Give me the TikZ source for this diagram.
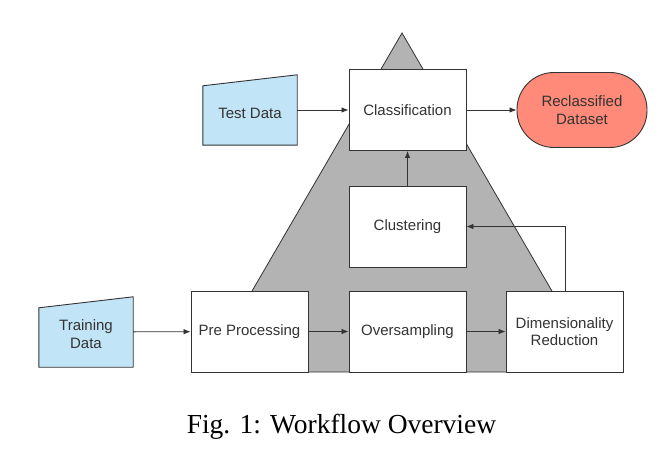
\documentclass[tikz,border=0pt]{standalone}
\usepackage{xcolor}
\usepackage{fontspec}
\setmainfont{Liberation Serif}
\setsansfont{Liberation Sans}
\usepackage{tikz}
\usetikzlibrary{arrows.meta,positioning,calc,backgrounds}

\definecolor{lineGray}{HTML}{333333}
\definecolor{triGray}{HTML}{B3B3B3}
\definecolor{dataBlue}{HTML}{C2E4F7}
\definecolor{outSalmon}{HTML}{FF8A7A}

\begin{document}
\begin{tikzpicture}[x=1pt, y=-1pt,
    every node/.style={font=\sffamily\fontsize{15}{17.5}\selectfont, text=lineGray},
    proc/.style={draw=lineGray, line width=0.9pt, fill=white, minimum width=117pt, minimum height=81pt, align=center, inner sep=0pt},
    datanode/.style={minimum width=94pt, minimum height=70pt, align=center, inner sep=0pt},
    datashape/.style={draw=lineGray, line width=0.9pt, fill=dataBlue},
    result/.style={draw=lineGray, line width=0.9pt, fill=outSalmon, rounded corners=37pt, minimum width=130pt, minimum height=75pt, align=center, inner sep=0pt},
    flow/.style={draw=lineGray, line width=0.8pt, -{Latex[length=7pt,width=5.5pt]}}]
    \useasboundingbox (0,0) rectangle (658,454);

    % background triangle
    \draw[draw=lineGray, line width=0.8pt, fill=triGray] (402,33) -- (599,372) -- (205,372) -- cycle;

    % process boxes
    \node[proc] (classif) at (407.5,110) {Classification};
    \node[proc] (clust) at (407.5,226.5) {Clustering};
    \node[proc] (prep) at (249.5,331.5) {Pre Processing};
    \node[proc] (overs) at (407.5,331.5) {Oversampling};
    \node[proc] (dimred) at (564.5,331.5) {Dimensionality\\Reduction};
    \node[result] (reclass) at (582,110) {Reclassified\\Dataset};

    % input data
    \node[datanode] (test) at (250,110) {\raisebox{-8.9pt}[0pt][0pt]{Test Data}};
    \node[datanode] (train) at (86,332) {\raisebox{-7.75pt}[0pt][0pt]{\begin{tabular}{@{}c@{}}Training\\Data\end{tabular}}};
    \begin{scope}[on background layer]
        \draw[datashape] ($(test.north west)+(0,11)$) -- (test.north east) -- (test.south east) -- (test.south west) -- cycle;
        \draw[datashape] ($(train.north west)+(0,11)$) -- (train.north east) -- (train.south east) -- (train.south west) -- cycle;
    \end{scope}

    % connectors
    \draw[flow] (test.east) -- (classif.west);
    \draw[flow] (classif.east) -- (reclass.west);
    \draw[flow] (train) -- (prep);
    \draw[flow] (prep) -- (overs);
    \draw[flow] (overs) -- (dimred);
    \draw[flow] (clust) -- (classif);
    \draw[flow] (dimred.north) ++(0.5,0) |- (clust.east);

    \node[font=\rmfamily\fontsize{27.5}{32}\selectfont, text=black] (caption) at (341.5,427) {Fig. 1: Workflow Overview};
\end{tikzpicture}
\end{document}
